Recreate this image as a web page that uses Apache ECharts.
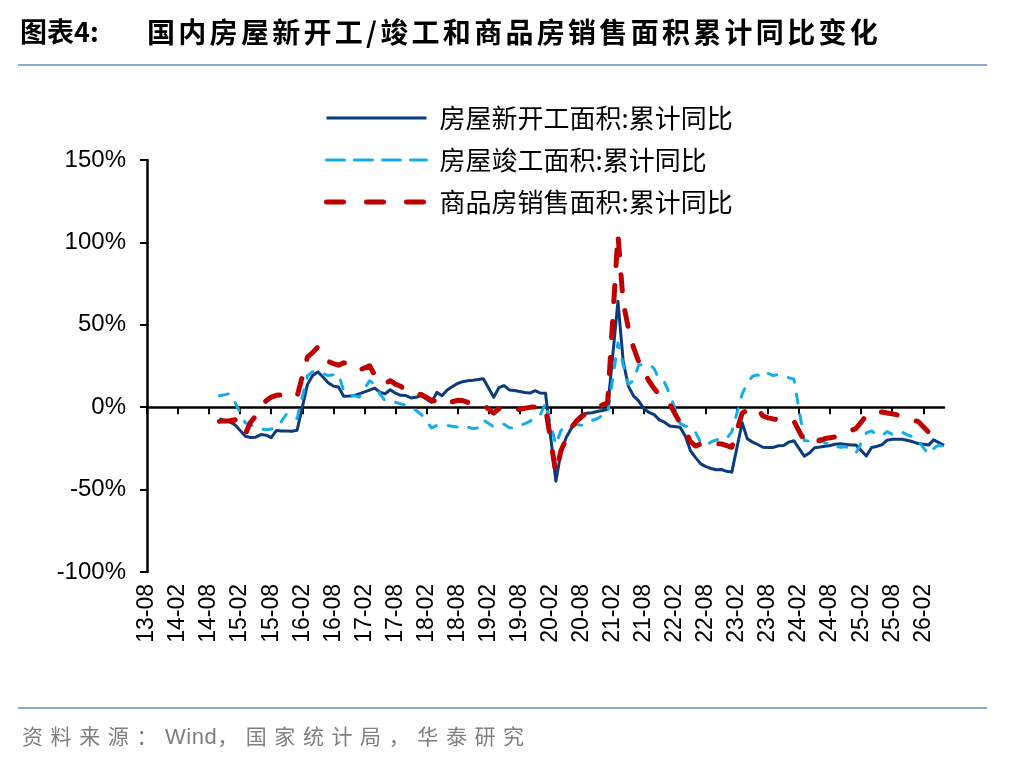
<!DOCTYPE html>
<html>
<head>
<meta charset="utf-8">
<title>国内房屋新开工/竣工和商品房销售面积累计同比变化</title>
<script src="https://cdn.jsdelivr.net/npm/echarts@6/dist/echarts.min.js"></script>
<style>
    html, body { margin: 0; padding: 0; background: #fff; }
    #wrap { position: relative; width: 1009px; height: 760px; overflow: hidden; }
    #chart { position: absolute; left: 0; top: 0; width: 1009px; height: 760px; }
    .head { position: absolute; top: 12px; line-height: 38px; font-family: "Noto Sans CJK SC", sans-serif;
            font-weight: bold; color: #000; white-space: nowrap; }
    .rule { position: absolute; left: 18px; width: 969px; height: 2px; background: #8eaacb; }
    .source { position: absolute; left: 22px; top: 722px; line-height: 26px; font-size: 21px; letter-spacing: 7.6px;
              font-family: "Noto Sans CJK SC", sans-serif; color: #7f7f7f; white-space: nowrap; }
    .source .en { letter-spacing: 0.5px; font-family: "Liberation Sans", sans-serif; font-size: 22px; }
</style>
</head>
<body>
<div id="wrap">
    <div id="chart"></div>
    <div class="head" style="left:20px;font-size:27px;">图表4:</div>
    <div class="head" style="left:147px;font-size:28px;letter-spacing:3.3px;">国内房屋新开工/竣工和商品房销售面积累计同比变化</div>
    <div class="rule" style="top:64px;"></div>
    <div class="rule" style="top:707px;"></div>
    <div class="source">资料来源：<span class="en">Wind</span>，国家统计局，华泰研究</div>
</div>
<script>
    // 横轴月份：13-08 ~ 26-06
    var axisStart = [2013, 8],
        axisCount = 155;

    // 数据起始月份 2014-09，每年1月无数据（1-2月合并公布）
    var dataStart = [2014, 9];

    // 房屋新开工面积:累计同比
    var newStart = [
        -7, -8, -9, -10.7,
        null, -17.7, -18.4, -18.2, -16.6, -17.0, -18.5, -14.2, -14.5, -14.5, -14.6, -14.0,
        null, 13.7, 19.2, 21.4, 18.3, 14.9, 12.8, 12.2, 6.7, 6.8, 7.0, 8.1,
        null, 10.4, 11.6, 9.1, 8.1, 10.6, 8.5, 7.2, 7.1, 5.6, 6.0, 7.0,
        null, 2.9, 9.0, 7.0, 10.5, 12.5, 14.4, 15.5, 16.0, 16.3, 16.8, 17.2,
        null, 6.0, 11.9, 13.1, 10.5, 10.1, 9.5, 8.9, 8.6, 10.0, 8.6, 8.5,
        null, -44.9, -27.2, -18.4, -12.8, -7.6, -4.5, -3.6, -3.4, -2.6, -2.0, -1.2,
        null, 64.3, 28.2, 12.8, 6.9, 3.8, -0.9, -3.2, -4.5, -7.7, -9.1, -11.4,
        null, -12.2, -17.5, -26.3, -30.6, -34.4, -36.1, -37.2, -38.0, -37.8, -38.9, -39.4,
        null, -9.4, -19.2, -21.2, -22.6, -24.3, -24.5, -24.4, -23.4, -23.2, -21.2, -20.4,
        null, -29.7, -27.8, -24.6, -24.2, -23.7, -23.2, -22.5, -22.2, -22.6, -23.0, -23.0,
        null, -29.6, -24.4, -23.8, -22.8, -20.0, -19.4, -19.5, -19.5, -20.2, -21.0, -22.0,
        null, -23.0, -19.8, -21.5, -23.2
    ];

    // 房屋竣工面积:累计同比
    var completed = [
        7.0, 7.5, 8.3, 3.0,
        null, -9.5, -10.5, -12.5, -13.2, -13.7, -13.2, -12.5, -8.5, -4.0, -6.0, -6.9,
        null, 19.0, 21.5, 21.0, 20.5, 19.2, 19.7, 20.2, 10.0, 7.5, 7.0, 6.1,
        null, 16.0, 14.0, 8.0, 4.0, 3.5, 3.0, 2.0, 1.0, 0.0, -2.0, -4.4,
        null, -12.6, -11.0, -11.0, -11.2, -11.5, -12.0, -11.0, -12.0, -13.0, -12.5, -7.8,
        null, -11.9, -10.8, -10.3, -12.4, -12.7, -11.3, -10.0, -8.6, -5.5, -4.5, 2.6,
        null, -22.9, -14.0, -12.0, -11.0, -10.5, -11.0, -9.5, -8.0, -7.0, -5.0, -4.0,
        null, 39.0, 26.0, 14.0, 16.0, 25.7, 25.7, 26.0, 23.4, 16.3, 15.0, 8.0,
        null, -9.8, -11.5, -11.9, -15.3, -21.5, -23.3, -21.1, -19.9, -18.7, -19.0, -15.0,
        null, 8.0, 14.7, 18.8, 19.6, 17.9, 20.5, 19.2, 19.8, 19.0, 17.9, 17.0,
        null, -20.2, -20.7, -20.4, -19.0, -21.8, -21.8, -23.6, -24.4, -23.9, -26.2, -27.7,
        null, -15.6, -14.3, -16.9, -17.3, -14.8, -16.5, -17.0, -15.3, -16.9, -18.0, -20.5,
        null, -28.5, -25.0, -23.0, -24.0
    ];

    // 商品房销售面积:累计同比
    var sold = [
        -8.6, -8.3, -8.2, -7.6,
        null, -16.3, -9.2, -5.4, -0.2, 3.9, 6.1, 7.2, 7.5, 7.2, 7.4, 6.5,
        null, 30.4, 33.1, 36.5, 33.2, 27.9, 26.4, 25.5, 26.9, 26.8, 24.3, 22.5,
        null, 25.1, 19.5, 15.7, 14.3, 16.1, 14.0, 12.7, 10.3, 8.2, 7.9, 7.7,
        null, 4.1, 3.6, 1.3, 2.9, 3.3, 4.2, 4.0, 2.9, 2.2, 1.4, 1.3,
        null, -3.6, -0.9, -0.3, -1.6, -1.8, -1.3, -0.6, -0.1, 0.1, 0.2, -0.1,
        null, -39.9, -26.3, -19.3, -12.3, -8.4, -5.8, -3.3, -1.8, 0.0, 1.3, 2.6,
        null, 104.9, 63.8, 48.1, 36.3, 27.7, 21.5, 15.9, 11.3, 7.6, 4.8, 1.9,
        null, -9.6, -13.8, -20.9, -23.6, -22.2, -23.1, -23.0, -22.2, -22.3, -23.3, -24.3,
        null, -3.6, -1.8, -0.4, -0.9, -5.3, -6.5, -7.1, -7.5, -7.8, -8.0, -8.5,
        null, -20.5, -19.4, -20.2, -20.3, -19.0, -18.6, -18.0, -17.1, -15.8, -14.3, -12.9,
        null, -5.1, -3.0, -2.8, -2.9, -3.5, -4.0, -4.7, -5.5, -6.8, -7.8, -8.7,
        null, -15.0, -12.8, -13.0, -13.0
    ];

    var names = ['房屋新开工面积:累计同比', '房屋竣工面积:累计同比', '商品房销售面积:累计同比'];
    var colors = ['#0c3c7c', '#12aeea', '#c00000'];

    var months = [], i, total;
    for (i = 0; i < axisCount; i++) {
        total = axisStart[0] * 12 + axisStart[1] - 1 + i;
        months.push(String(Math.floor(total / 12)).slice(2) + '-' + ('0' + (total % 12 + 1)).slice(-2));
    }

    // 数据为月末值，画在下一个月的刻度处
    var offset = (dataStart[0] - axisStart[0]) * 12 + dataStart[1] - axisStart[1] + 1;

    function place(values) {
        var arr = months.map(function () { return null; });
        values.forEach(function (v, k) {
            if (offset + k < arr.length) arr[offset + k] = v;
        });
        return arr;
    }

    var every6 = function (index) { return index % 6 === 0; };

    var lineStyles = [
        { color: colors[0], width: 3, join: 'round' },
        { color: colors[1], width: 3, type: [9, 12], cap: 'round', join: 'round' },
        { color: colors[2], width: 5, type: [16, 20], cap: 'round', join: 'round' }
    ];

    // 图例里的虚线段更长一些
    var legendStyles = [
        lineStyles[0],
        { color: colors[1], width: 3, type: [18, 10], cap: 'round' },
        { color: colors[2], width: 5, type: [17, 23], cap: 'round' }
    ];

    var chart = echarts.init(document.getElementById('chart'));

    chart.setOption({
        animation: false,
        backgroundColor: '#fff',
        grid: { left: 147, right: 65, top: 160, bottom: 188 },
        legend: {
            orient: 'vertical',
            left: 324,
            top: 105,
            padding: 0,
            itemWidth: 100,
            itemHeight: 14,
            itemGap: 16,
            itemStyle: { color: 'rgba(0,0,0,0)', borderWidth: 0, opacity: 0 },
            textStyle: { fontSize: 26, color: '#000', fontFamily: 'Noto Sans CJK SC', padding: [0, 0, 0, 8] },
            data: names.map(function (n, k) {
                return { name: n, lineStyle: legendStyles[k] };
            })
        },
        xAxis: {
            type: 'category',
            data: months,
            boundaryGap: false,
            axisLine: { lineStyle: { color: '#000', width: 2.5 } },
            axisTick: { interval: every6, length: 7, lineStyle: { color: '#000', width: 2 } },
            axisLabel: {
                interval: every6,
                rotate: 90,
                margin: 12,
                fontSize: 23,
                color: '#000',
                fontFamily: 'Liberation Sans'
            },
            splitLine: { show: false }
        },
        yAxis: {
            type: 'value',
            min: -100,
            max: 150,
            interval: 50,
            axisLine: { show: true, lineStyle: { color: '#000', width: 2.5 } },
            axisTick: { show: true, length: 7, lineStyle: { color: '#000', width: 2 } },
            axisLabel: {
                formatter: '{value}%',
                margin: 21,
                fontSize: 24,
                color: '#000',
                fontFamily: 'Liberation Sans'
            },
            splitLine: { show: false }
        },
        series: [newStart, completed, sold].map(function (values, k) {
            return {
                name: names[k],
                type: 'line',
                data: place(values),
                symbol: 'none',
                connectNulls: true,
                itemStyle: { color: colors[k] },
                lineStyle: lineStyles[k]
            };
        })
    });
</script>
</body>
</html>
